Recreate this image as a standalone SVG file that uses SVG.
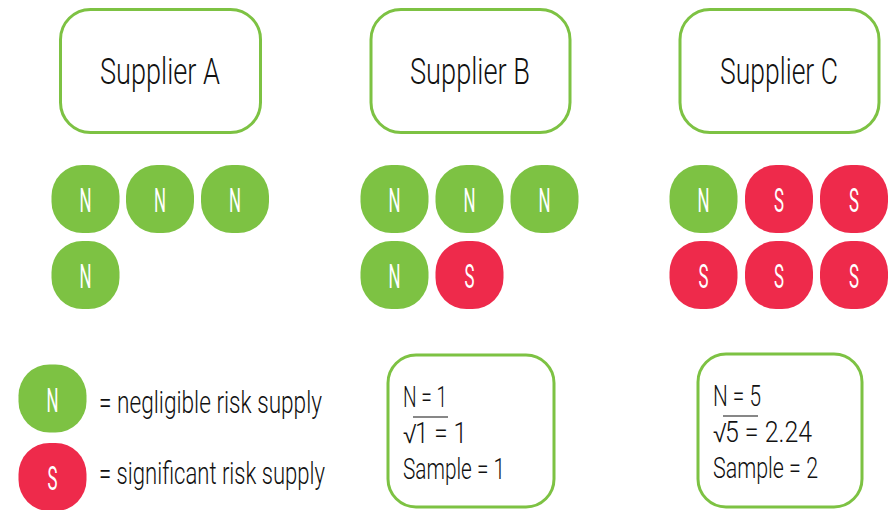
<svg xmlns="http://www.w3.org/2000/svg" width="892" height="510" viewBox="0 0 892 510">
  <style>
    .box { fill: #ffffff; stroke: #7dc243; stroke-width: 3; }
    .n { fill: #7dc243; }
    .s { fill: #ee2a4b; }
    .t { font-family: Roboto, "Liberation Sans", sans-serif; font-weight: 300; fill: #111111; }
    .title { font-size: 37px; }
    .body { font-size: 32px; }
    .calc { font-size: 29px; }
    .root { font-family: "DejaVu Sans", sans-serif; font-weight: 200; font-size: 24px; }
    .letter { font-family: Roboto, "Liberation Sans", sans-serif; font-weight: 400; font-size: 34px; fill: #ffffff; }
    .bar { stroke: #111111; stroke-width: 1.2; }
  </style>
  <defs>
    <rect id="chip" x="-34" y="-34" width="68" height="68" rx="31"/>
  </defs>
  <rect width="892" height="510" fill="#ffffff"/>

  <!-- Supplier headers -->
  <g id="supplier-a">
    <rect class="box" x="60.5" y="9.5" width="200" height="123" rx="30"/>
    <text class="t title" x="100" y="84" textLength="120" lengthAdjust="spacingAndGlyphs">Supplier A</text>
  </g>
  <g id="supplier-b">
    <rect class="box" x="371" y="9.5" width="199" height="123" rx="30"/>
    <text class="t title" x="410" y="84" textLength="120" lengthAdjust="spacingAndGlyphs">Supplier B</text>
  </g>
  <g id="supplier-c">
    <rect class="box" x="680" y="9.5" width="199" height="123" rx="30"/>
    <text class="t title" x="720" y="84" textLength="118" lengthAdjust="spacingAndGlyphs">Supplier C</text>
  </g>

  <!-- Supplier A supplies -->
  <g id="a-supplies">
    <g transform="translate(85.5,199)"><use href="#chip" class="n"/><text class="letter" x="-6" y="13" textLength="12" lengthAdjust="spacingAndGlyphs">N</text></g>
    <g transform="translate(160,199)"><use href="#chip" class="n"/><text class="letter" x="-6" y="13" textLength="12" lengthAdjust="spacingAndGlyphs">N</text></g>
    <g transform="translate(235,199)"><use href="#chip" class="n"/><text class="letter" x="-6" y="13" textLength="12" lengthAdjust="spacingAndGlyphs">N</text></g>
    <g transform="translate(85.5,275)"><use href="#chip" class="n"/><text class="letter" x="-6" y="13" textLength="12" lengthAdjust="spacingAndGlyphs">N</text></g>
  </g>

  <!-- Supplier B supplies -->
  <g id="b-supplies">
    <g transform="translate(394.5,199)"><use href="#chip" class="n"/><text class="letter" x="-6" y="13" textLength="12" lengthAdjust="spacingAndGlyphs">N</text></g>
    <g transform="translate(469.5,199)"><use href="#chip" class="n"/><text class="letter" x="-6" y="13" textLength="12" lengthAdjust="spacingAndGlyphs">N</text></g>
    <g transform="translate(544.5,199)"><use href="#chip" class="n"/><text class="letter" x="-6" y="13" textLength="12" lengthAdjust="spacingAndGlyphs">N</text></g>
    <g transform="translate(394.5,275)"><use href="#chip" class="n"/><text class="letter" x="-6" y="13" textLength="12" lengthAdjust="spacingAndGlyphs">N</text></g>
    <g transform="translate(469.5,275)"><use href="#chip" class="s"/><text class="letter" x="-5" y="13" textLength="10" lengthAdjust="spacingAndGlyphs">S</text></g>
  </g>

  <!-- Supplier C supplies -->
  <g id="c-supplies">
    <g transform="translate(703.5,199)"><use href="#chip" class="n"/><text class="letter" x="-6" y="13" textLength="12" lengthAdjust="spacingAndGlyphs">N</text></g>
    <g transform="translate(779,199)"><use href="#chip" class="s"/><text class="letter" x="-5" y="13" textLength="10" lengthAdjust="spacingAndGlyphs">S</text></g>
    <g transform="translate(854,199)"><use href="#chip" class="s"/><text class="letter" x="-5" y="13" textLength="10" lengthAdjust="spacingAndGlyphs">S</text></g>
    <g transform="translate(703.5,275)"><use href="#chip" class="s"/><text class="letter" x="-5" y="13" textLength="10" lengthAdjust="spacingAndGlyphs">S</text></g>
    <g transform="translate(779,275)"><use href="#chip" class="s"/><text class="letter" x="-5" y="13" textLength="10" lengthAdjust="spacingAndGlyphs">S</text></g>
    <g transform="translate(854,275)"><use href="#chip" class="s"/><text class="letter" x="-5" y="13" textLength="10" lengthAdjust="spacingAndGlyphs">S</text></g>
  </g>

  <!-- Legend -->
  <g id="legend-n">
    <g transform="translate(52.5,398.5)"><use href="#chip" class="n"/><text class="letter" x="-6" y="13" textLength="12" lengthAdjust="spacingAndGlyphs">N</text></g>
    <text class="t body" x="99" y="413" textLength="223" lengthAdjust="spacingAndGlyphs">= negligible risk supply</text>
  </g>
  <g id="legend-s">
    <g transform="translate(52.5,477)"><use href="#chip" class="s"/><text class="letter" x="-5" y="13" textLength="10" lengthAdjust="spacingAndGlyphs">S</text></g>
    <text class="t body" x="99" y="484" textLength="226" lengthAdjust="spacingAndGlyphs">= significant risk supply</text>
  </g>

  <!-- Sample size for Supplier B -->
  <g id="sample-b">
    <rect class="box" x="388" y="355" width="166" height="152" rx="28"/>
    <line class="bar" x1="413" y1="417" x2="448" y2="417"/>
    <text class="t calc">
      <tspan x="403" y="407" textLength="44" lengthAdjust="spacingAndGlyphs">N = 1</tspan>
      <tspan class="root" x="403" y="443">√</tspan><tspan x="415" y="443" textLength="52" lengthAdjust="spacingAndGlyphs">1 = 1</tspan>
      <tspan x="403" y="479" textLength="102" lengthAdjust="spacingAndGlyphs">Sample = 1</tspan>
    </text>
  </g>

  <!-- Sample size for Supplier C -->
  <g id="sample-c">
    <rect class="box" x="698" y="354" width="164" height="153" rx="28"/>
    <line class="bar" x1="723" y1="416" x2="758" y2="416"/>
    <text class="t calc">
      <tspan x="713" y="406" textLength="48" lengthAdjust="spacingAndGlyphs">N = 5</tspan>
      <tspan class="root" x="713" y="442">√</tspan><tspan x="725" y="442" textLength="87" lengthAdjust="spacingAndGlyphs">5 = 2.24</tspan>
      <tspan x="713" y="478" textLength="105" lengthAdjust="spacingAndGlyphs">Sample = 2</tspan>
    </text>
  </g>
</svg>
